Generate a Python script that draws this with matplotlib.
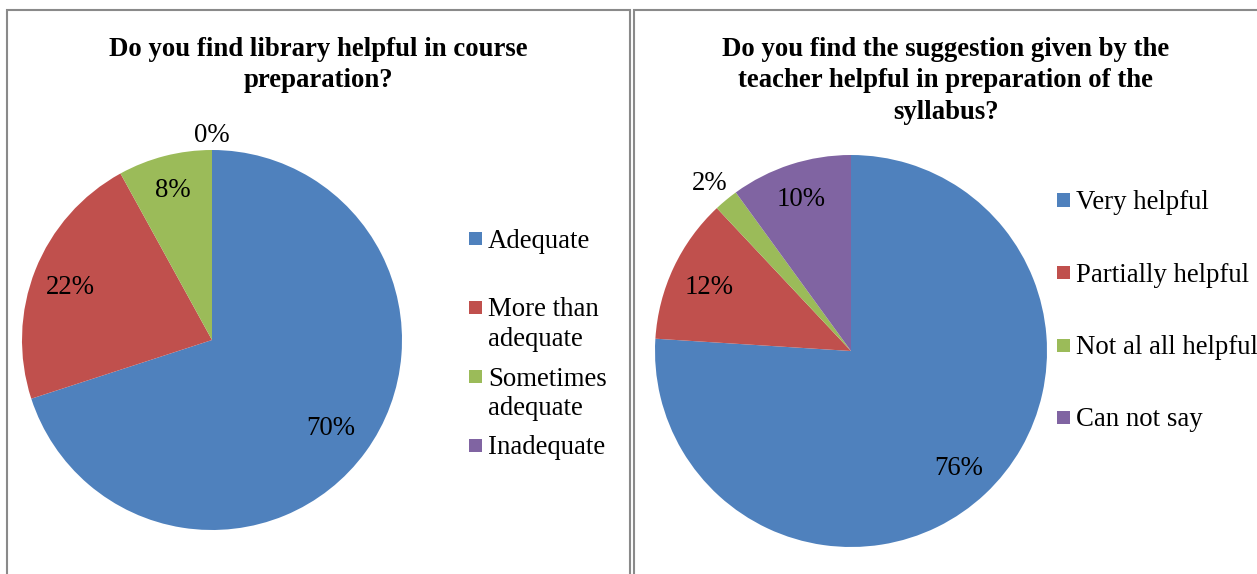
import matplotlib.pyplot as plt
from matplotlib.patches import Rectangle
import numpy as np

plt.rcParams['font.family'] = ['Liberation Serif', 'DejaVu Serif']

W, H = 1257, 574

colors = ['#4F81BD', '#C0504D', '#9BBB59', '#8064A2']

lib_labels = ['Adequate', 'More than\nadequate', 'Sometimes\nadequate', 'Inadequate']
lib_values = [70, 22, 8, 0]
lib_pct_dist = [0.77, 0.80, 0.83, 1.09]
lib_title = 'Do you find library helpful in course\npreparation?'

sug_labels = ['Very helpful', 'Partially helpful', 'Not al all helpful', 'Can not say']
sug_values = [76, 12, 2, 10]
sug_pct_dist = [0.80, 0.80, 1.13, 0.83]
sug_title = 'Do you find the suggestion given by the\nteacher helpful in preparation of the\nsyllabus?'

FS = 19.3


def fx(px):
	return px / W


def fy(py):
	return 1 - py / H


def draw_panel(fig, cx, cy, r, values, labels, pct_dist, title, tx, legend_x, legend_y0, legend_step):
	ax = fig.add_axes([fx(cx - r), fy(cy + r), 2 * r / W, 2 * r / H])
	ax.pie(values, colors=colors, startangle=90, counterclock=False, radius=1,
		wedgeprops=dict(linewidth=0))
	ax.set_xlim(-1, 1)
	ax.set_ylim(-1, 1)
	ax.set_aspect('auto')
	ax.axis('off')
	# percent labels
	total = float(sum(values))
	start = 0.0
	for v, d in zip(values, pct_dist):
		mid = (start + v / 2.0) / total
		ang = np.deg2rad(90 - 360 * mid)
		ax.text(d * np.cos(ang), d * np.sin(ang), '%d%%' % v, ha='center', va='center_baseline',
			fontsize=FS, clip_on=False)
		start += v
	# title
	fig.text(fx(tx), fy(37), title, ha='center', va='top', fontsize=FS,
		fontweight='bold', linespacing=1.33)
	# legend
	for i, (lab, c) in enumerate(zip(labels, colors)):
		y = legend_y0 + i * legend_step
		fig.patches.append(Rectangle((fx(legend_x), fy(y + 6.5)), 13 / W, 13 / H,
			transform=fig.transFigure, facecolor=c, edgecolor='none'))
		fig.text(fx(legend_x + 19), fy(y - 10), lab, ha='left', va='top', fontsize=FS,
			linespacing=1.26)


fig = plt.figure(figsize=(W / 100, H / 100), dpi=100)

# panel borders
fig.patches.append(Rectangle((fx(7), fy(700)), 623 / W, 690 / H, transform=fig.transFigure,
	facecolor='none', edgecolor='#8a8a8a', linewidth=1.5))
fig.patches.append(Rectangle((fx(634), fy(700)), 700 / W, 690 / H, transform=fig.transFigure,
	facecolor='none', edgecolor='#8a8a8a', linewidth=1.5))

draw_panel(fig, 212, 340, 190, lib_values, lib_labels, lib_pct_dist, lib_title,
	318, 469, 238.5, 69)
draw_panel(fig, 851, 351, 196, sug_values, sug_labels, sug_pct_dist, sug_title,
	946, 1057, 200, 72.5)

fig.savefig('out.png', dpi=100)
